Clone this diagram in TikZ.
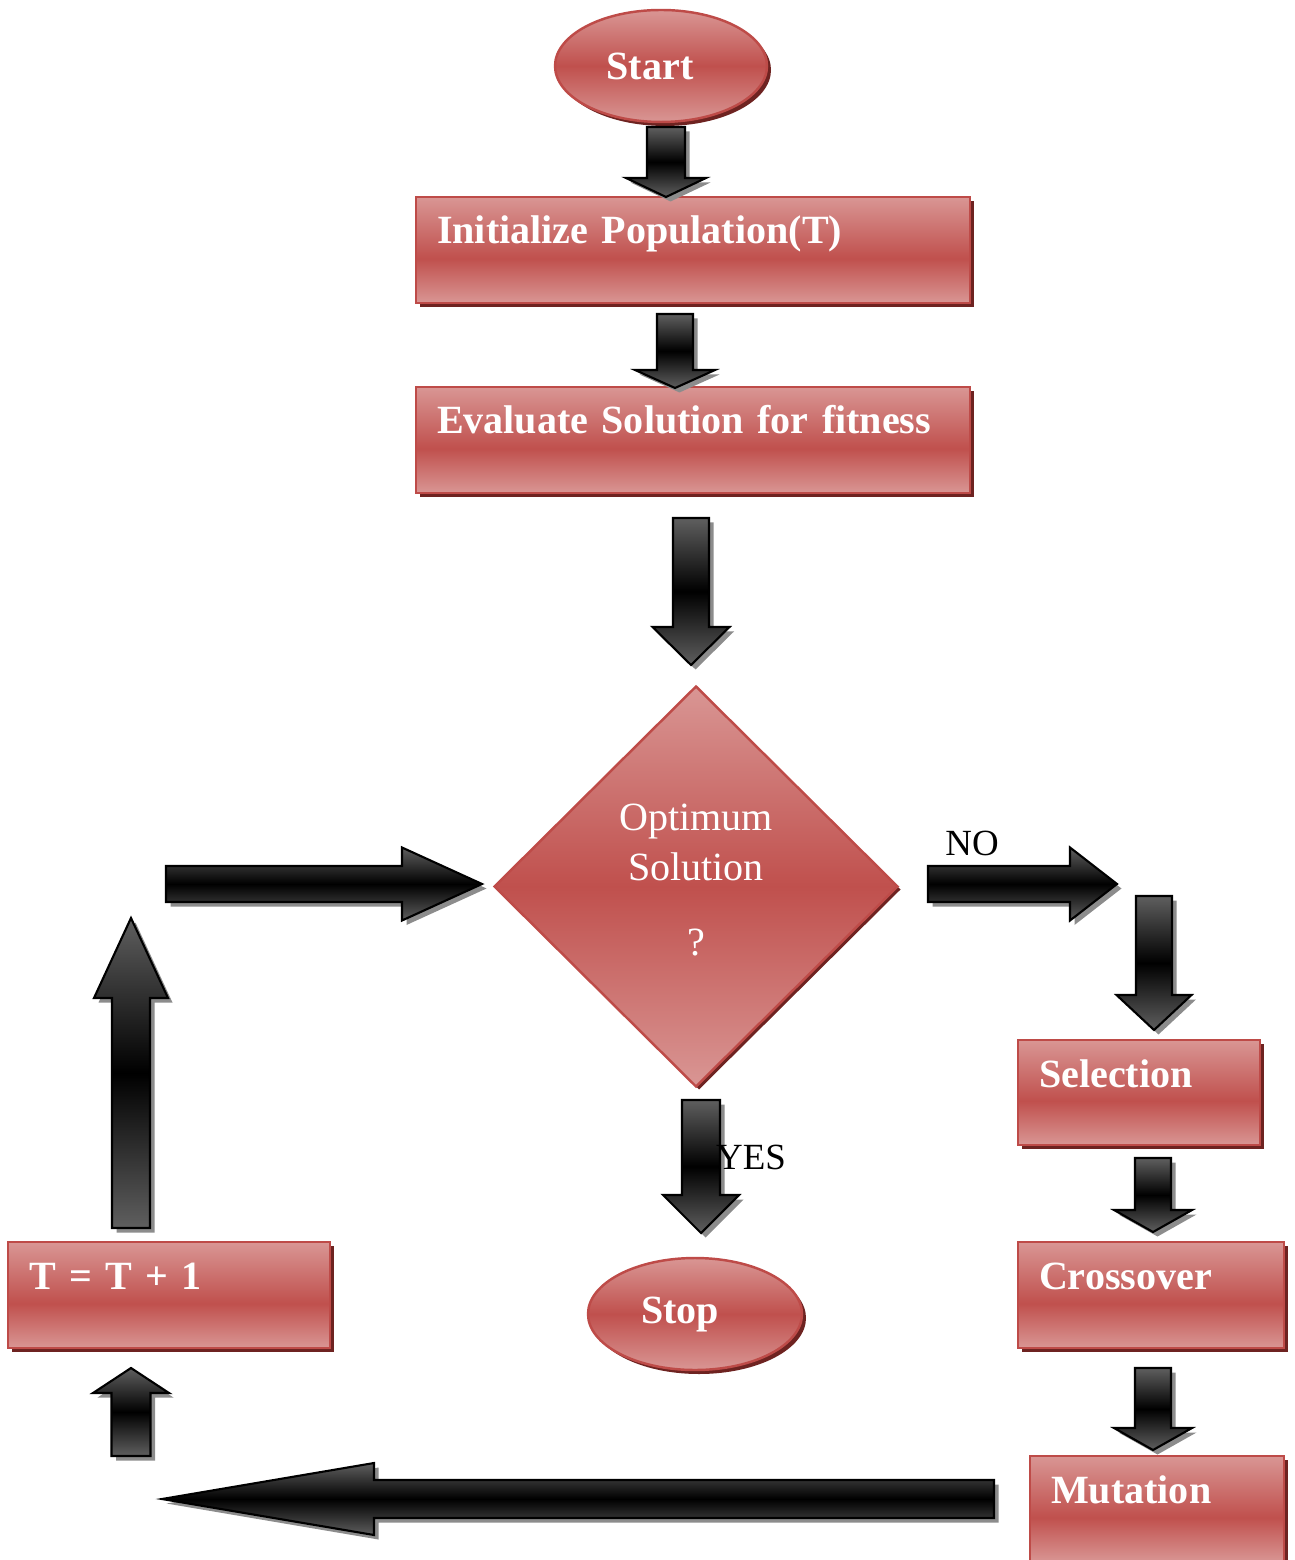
\documentclass[tikz,border=0pt]{standalone}
\usepackage{fontspec}
\setmainfont{Liberation Serif}
\usetikzlibrary{calc,shapes.geometric,shadows}

\definecolor{boxlight}{RGB}{217,150,148}
\definecolor{boxmid}{RGB}{192,80,77}
\definecolor{boxline}{RGB}{190,75,72}
\definecolor{boxshadow}{RGB}{110,35,33}
\definecolor{arrowgray}{RGB}{95,95,95}
\definecolor{arrowshadow}{RGB}{140,140,140}

\pgfdeclareverticalshading{redbox}{100bp}{color(0bp)=(boxlight); color(25bp)=(boxlight); color(46bp)=(boxmid); color(75bp)=(boxlight); color(100bp)=(boxlight)}

\newcommand{\flowfont}{\bfseries\fontsize{11.4}{13.7}\selectfont\fontdimen2\font=0.15em\relax}

\tikzset{
    procbox/.style={rectangle, draw=boxline, line width=0.7pt, shading=redbox,
        text=white, font=\flowfont, align=left, inner xsep=0.21cm, inner ysep=0pt,
        text height=0.47cm, text depth=0.59cm,
        drop shadow={shadow xshift=0.04cm, shadow yshift=-0.04cm, fill=boxshadow, opacity=1}},
    terminal/.style={ellipse, draw=boxline, line width=0.7pt, top color=boxlight,
        bottom color=boxlight, middle color=boxmid, text=white, font=\flowfont,
        minimum width=2.12cm, minimum height=1.12cm, inner sep=0pt,
        drop shadow={shadow xshift=0.04cm, shadow yshift=-0.04cm, fill=boxshadow, opacity=1}},
    decision/.style={diamond, draw=boxline, line width=0.7pt, top color=boxlight,
        bottom color=boxlight, middle color=boxmid, text=white,
        font=\fontsize{11.4}{14.2}\selectfont, align=center,
        minimum width=4.04cm, minimum height=4.01cm, inner sep=0pt,
        drop shadow={shadow xshift=0.03cm, shadow yshift=-0.03cm, fill=boxshadow, opacity=1}},
    blockarrow/.style={draw=black, line width=0.6pt, top color=arrowgray,
        bottom color=arrowgray, middle color=black,
        drop shadow={shadow xshift=0.045cm, shadow yshift=-0.045cm, fill=arrowshadow, opacity=1}},
    lbl/.style={text=black, font=\fontsize{10.5}{12}\selectfont, inner sep=0pt}
}

% #1 хвост, #2 острие, #3 полуширина стрелки, #4 полуширина головки, #5 длина головки
\newcommand{\blockarrow}[5]{%
    \coordinate (#1-h) at ($(#2)!#5!(#1)$);
    \path[blockarrow] ($(#1)!#3!90:(#2)$) -- ($(#1-h)!#3!90:(#2)$) -- ($(#1-h)!#4!90:(#2)$)
        -- (#2) -- ($(#1-h)!#4!-90:(#2)$) -- ($(#1-h)!#3!-90:(#2)$) -- ($(#1)!#3!-90:(#2)$) -- cycle;
}

\begin{document}
\begin{tikzpicture}
    \clip (0,0) rectangle (12.94,-15.60);

    % Узлы
    \node[terminal] (start) at (6.61,-0.66) {Start\kern0.22cm};
    \node[procbox, text width=5.12cm] (init) at (6.93,-2.50) {Initialize Population(T)};
    \node[procbox, text width=5.12cm] (eval) at (6.93,-4.40) {Evaluate Solution for fitness};
    \node[decision] (opt) at (6.96,-8.865) {Optimum\\Solution\\[0.25cm]?\\[-0.36cm]};
    \node[procbox, text width=2.00cm, text depth=0.58cm] (sel) at (11.39,-10.925) {Selection};
    \node[procbox, text width=2.24cm] (cross) at (11.51,-12.95) {Crossover};
    \node[procbox, text width=2.12cm] (mut) at (11.57,-15.09) {Mutation};
    \node[procbox, text width=2.80cm] (tinc) at (1.69,-12.95) {T = T + 1};
    \node[terminal, minimum width=2.14cm] (stop) at (6.95,-13.14) {Stop\kern0.30cm};

    % Концы стрелок
    \coordinate (a1) at (6.66,-1.27);   \coordinate (b1) at (6.66,-1.97);
    \coordinate (a2) at (6.75,-3.14);   \coordinate (b2) at (6.75,-3.88);
    \coordinate (a3) at (6.91,-5.18);   \coordinate (b3) at (6.91,-6.65);
    \coordinate (a4) at (9.28,-8.84);   \coordinate (b4) at (11.17,-8.84);
    \coordinate (a5) at (11.54,-8.96);  \coordinate (b5) at (11.54,-10.30);
    \coordinate (a6) at (11.53,-11.58); \coordinate (b6) at (11.53,-12.32);
    \coordinate (a7) at (11.53,-13.68); \coordinate (b7) at (11.53,-14.50);
    \coordinate (a8) at (9.94,-14.99);  \coordinate (b8) at (1.62,-14.99);
    \coordinate (a9) at (1.31,-14.56);  \coordinate (b9) at (1.31,-13.68);
    \coordinate (a10) at (1.31,-12.28); \coordinate (b10) at (1.31,-9.18);
    \coordinate (a11) at (1.66,-8.84);  \coordinate (b11) at (4.82,-8.84);
    \coordinate (a12) at (7.01,-11.00); \coordinate (b12) at (7.01,-12.33);

    % Стрелки
    \blockarrow{a1}{b1}{0.19cm}{0.40cm}{0.19cm}
    \blockarrow{a2}{b2}{0.18cm}{0.40cm}{0.18cm}
    \blockarrow{a3}{b3}{0.18cm}{0.385cm}{0.38cm}
    \blockarrow{a4}{b4}{0.18cm}{0.365cm}{0.47cm}
    \blockarrow{a5}{b5}{0.18cm}{0.375cm}{0.35cm}
    \blockarrow{a6}{b6}{0.18cm}{0.39cm}{0.22cm}
    \blockarrow{a7}{b7}{0.18cm}{0.39cm}{0.22cm}
    \blockarrow{a8}{b8}{0.19cm}{0.36cm}{2.12cm}
    \blockarrow{a9}{b9}{0.195cm}{0.38cm}{0.25cm}
    \blockarrow{a10}{b10}{0.19cm}{0.37cm}{0.80cm}
    \blockarrow{a11}{b11}{0.18cm}{0.365cm}{0.80cm}
    \blockarrow{a12}{b12}{0.19cm}{0.38cm}{0.38cm}

    % Подписи
    \node[lbl] (no) at (9.72,-8.43) {NO};
    \node[lbl] (yes) at (7.51,-11.57) {YES};
\end{tikzpicture}
\end{document}
